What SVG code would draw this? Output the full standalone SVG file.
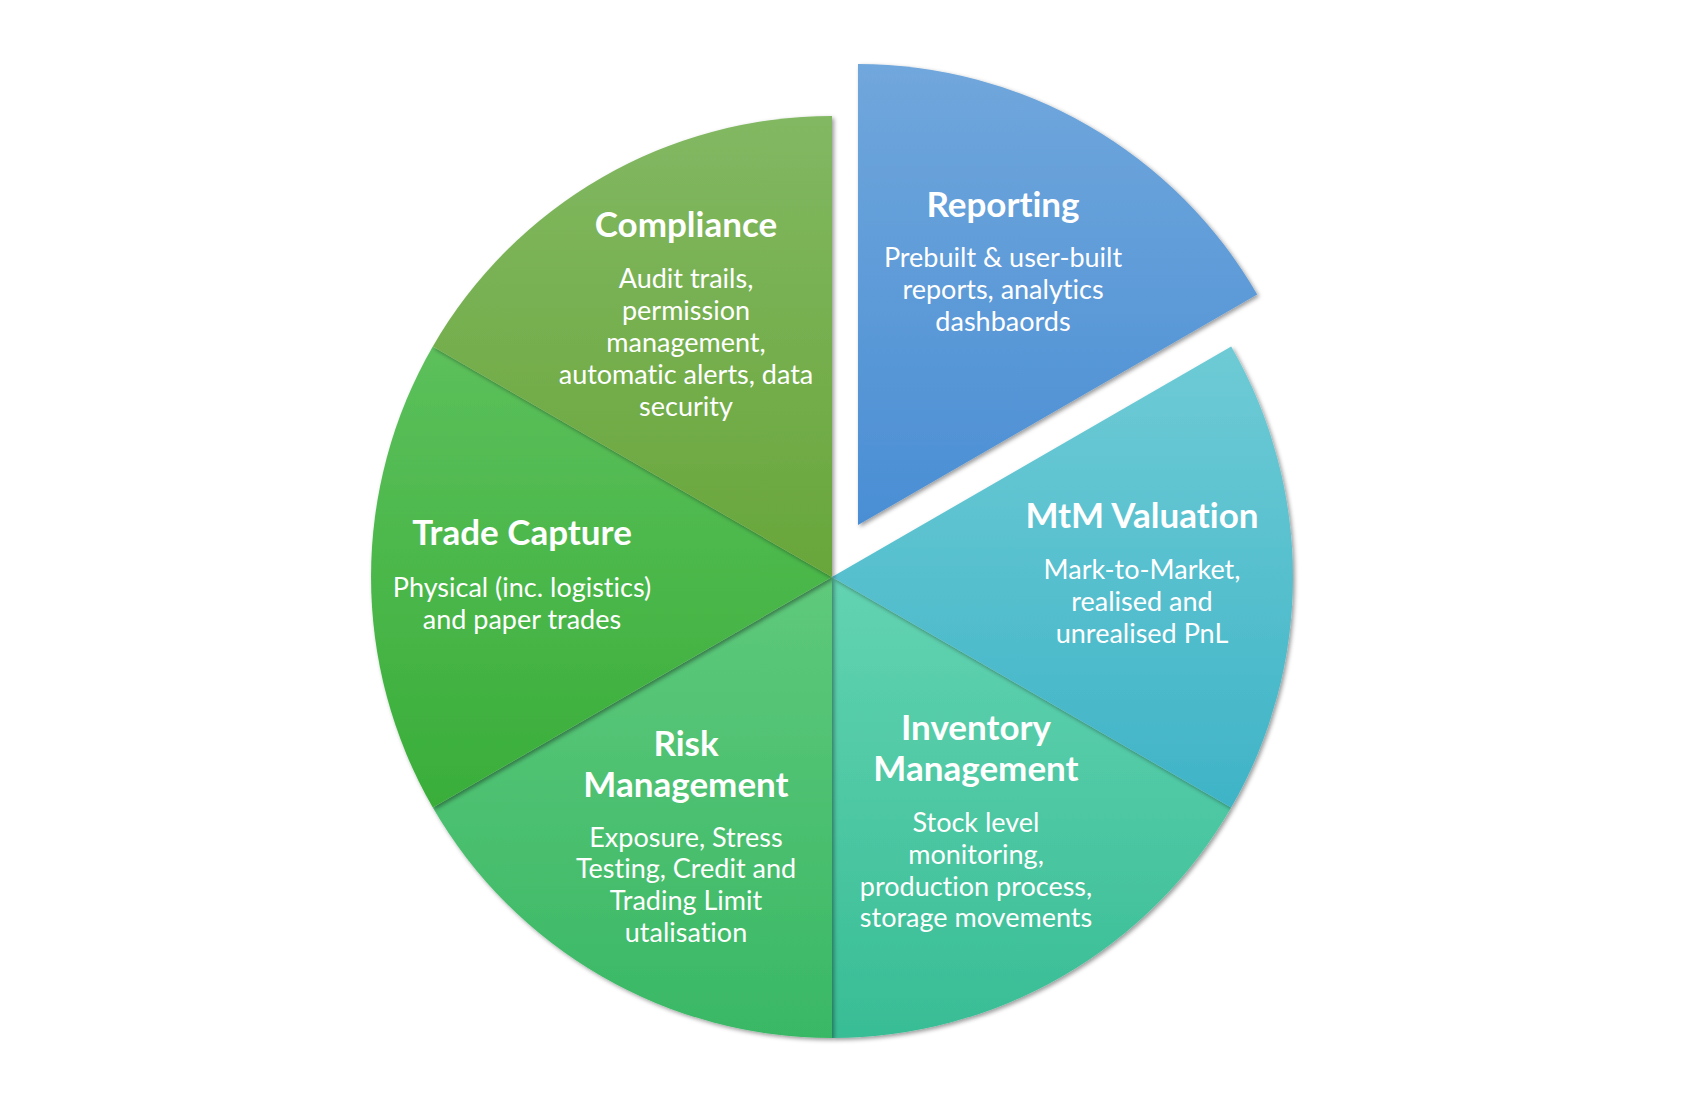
<svg xmlns="http://www.w3.org/2000/svg" width="1690" height="1101" viewBox="0 0 1690 1101">
<defs>
<style>
.t{font-family:Lato,"Liberation Sans",sans-serif;fill:#fff;text-anchor:middle;font-variant-ligatures:none;font-feature-settings:"liga" 0}
.h{font-size:35px;font-weight:bold}
.b{font-size:27px}
.s{filter:url(#sh)}
</style>
<filter id="sh" x="-10%" y="-10%" width="120%" height="120%">
<feDropShadow dx="2" dy="2" stdDeviation="2" flood-color="#000" flood-opacity="0.4"/>
</filter>
<linearGradient id="gRep" x1="0" y1="0" x2="0" y2="1"><stop offset="0" stop-color="#70a7dc"/><stop offset="1" stop-color="#4a8ed4"/></linearGradient>
<linearGradient id="gMtm" x1="0" y1="0" x2="0" y2="1"><stop offset="0" stop-color="#6ecbd5"/><stop offset="1" stop-color="#3fb4c7"/></linearGradient>
<linearGradient id="gInv" x1="0" y1="0" x2="0" y2="1"><stop offset="0" stop-color="#63d3b1"/><stop offset="1" stop-color="#38bd95"/></linearGradient>
<linearGradient id="gRisk" x1="0" y1="0" x2="0" y2="1"><stop offset="0" stop-color="#5fc97b"/><stop offset="1" stop-color="#39b865"/></linearGradient>
<linearGradient id="gTrade" x1="0" y1="0" x2="0" y2="1"><stop offset="0" stop-color="#5cc05b"/><stop offset="1" stop-color="#39ae39"/></linearGradient>
<linearGradient id="gComp" x1="0" y1="0" x2="0" y2="1"><stop offset="0" stop-color="#82b862"/><stop offset="1" stop-color="#68a63a"/></linearGradient>
</defs>
<rect width="1690" height="1101" fill="#fff"/>
<g id="inventory">
<path class="s" d="M832,577 L1231.2,807.5 A461,461 0 0,1 832,1038 Z" fill="url(#gInv)"/>
<text class="t h" x="976" y="740">Inventory</text>
<text class="t h" x="976" y="781">Management</text>
<text class="t b" x="976" y="832">Stock level</text>
<text class="t b" x="976" y="864">monitoring,</text>
<text class="t b" x="976" y="896">production process,</text>
<text class="t b" x="976" y="927">storage movements</text>
</g>
<g id="mtm">
<path class="s" d="M832,577 L1231.2,346.5 A461,461 0 0,1 1231.2,807.5 Z" fill="url(#gMtm)"/>
<text class="t h" x="1142" y="528">MtM Valuation</text>
<text class="t b" x="1142" y="579">Mark-to-Market,</text>
<text class="t b" x="1142" y="611">realised and</text>
<text class="t b" x="1142" y="643">unrealised PnL</text>
</g>
<g id="risk">
<path class="s" d="M832,577 L832,1038 A461,461 0 0,1 432.8,807.5 Z" fill="url(#gRisk)"/>
<text class="t h" x="686" y="756">Risk</text>
<text class="t h" x="686" y="797">Management</text>
<text class="t b" x="686" y="847">Exposure, Stress</text>
<text class="t b" x="686" y="878">Testing, Credit and</text>
<text class="t b" x="686" y="910">Trading Limit</text>
<text class="t b" x="686" y="942">utalisation</text>
</g>
<g id="trade">
<path class="s" d="M832,577 L432.8,807.5 A461,461 0 0,1 432.8,346.5 Z" fill="url(#gTrade)"/>
<text class="t h" x="522" y="545">Trade Capture</text>
<text class="t b" x="522" y="597">Physical (inc. logistics)</text>
<text class="t b" x="522" y="629">and paper trades</text>
</g>
<g id="compliance">
<path class="s" d="M832,577 L432.8,346.5 A461,461 0 0,1 832,116 Z" fill="url(#gComp)"/>
<text class="t h" x="686" y="237">Compliance</text>
<text class="t b" x="686" y="288">Audit trails,</text>
<text class="t b" x="686" y="320">permission</text>
<text class="t b" x="686" y="352">management,</text>
<text class="t b" x="686" y="384">automatic alerts, data</text>
<text class="t b" x="686" y="416">security</text>
</g>
<g id="reporting">
<path class="s" d="M858,525 L858,64 A461,461 0 0,1 1257.2,294.5 Z" fill="url(#gRep)"/>
<text class="t h" x="1003" y="217">Reporting</text>
<text class="t b" x="1003" y="267">Prebuilt &amp; user-built</text>
<text class="t b" x="1003" y="299">reports, analytics</text>
<text class="t b" x="1003" y="331">dashbaords</text>
</g>
<g id="connectors"/>
</svg>
